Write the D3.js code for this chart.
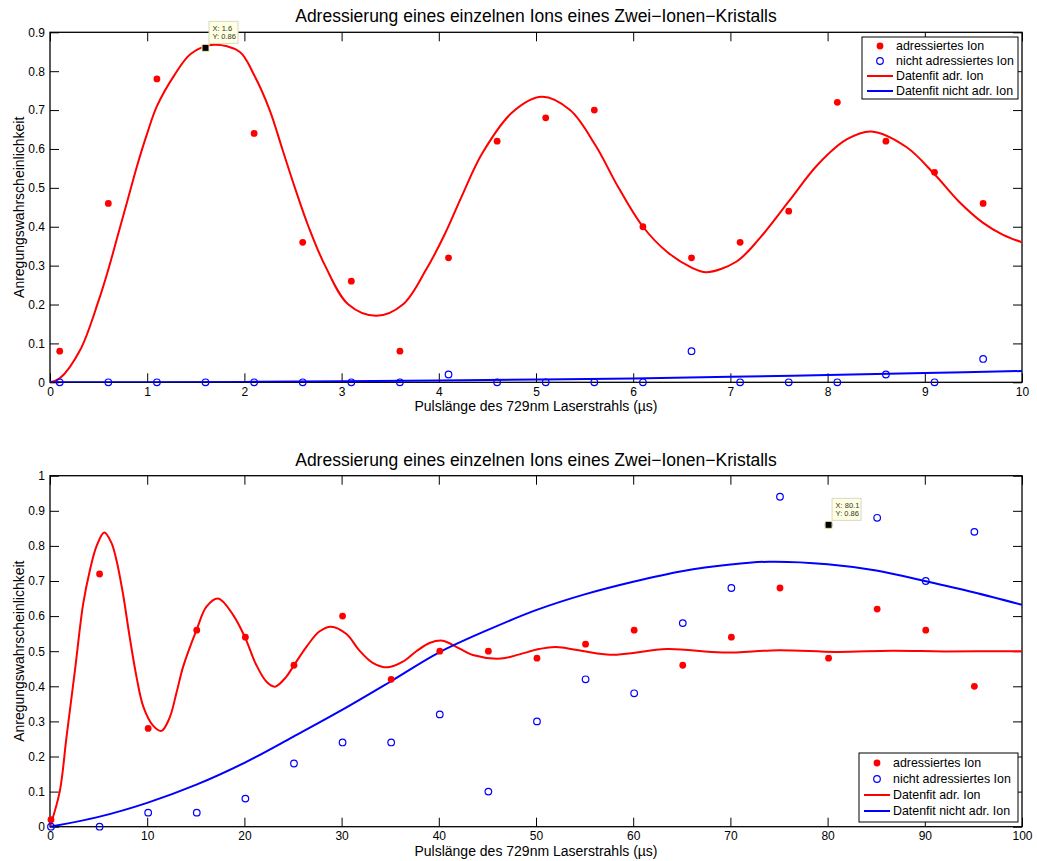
<!DOCTYPE html>
<html>
<head>
<meta charset="utf-8">
<script src="https://cdn.jsdelivr.net/npm/d3@7"></script>
<style>
  body { margin: 0; background: #fff; }
  svg { display: block; font-family: "Liberation Sans", Arial, sans-serif; }
</style>
</head>
<body>
<svg width="1037" height="861"></svg>
<script>
// titles and labels
const titleText = "Adressierung eines einzelnen Ions eines Zwei\u2212Ionen\u2212Kristalls"
const xLabel = "Pulslänge des 729nm Laserstrahls (µs)"
const yLabel = "Anregungswahrscheinlichkeit"
const legendLabels = ["adressiertes Ion", "nicht adressiertes Ion", "Datenfit adr. Ion", "Datenfit nicht adr. Ion"]

// top chart: measured points
const topX = [0.1, 0.6, 1.1, 1.6, 2.1, 2.6, 3.1, 3.6, 4.1, 4.6, 5.1, 5.6, 6.1, 6.6, 7.1, 7.6, 8.1, 8.6, 9.1, 9.6]
const topRed = [0.08, 0.46, 0.78, 0.86, 0.64, 0.36, 0.26, 0.08, 0.32, 0.62, 0.68, 0.70, 0.40, 0.32, 0.36, 0.44, 0.72, 0.62, 0.54, 0.46]
const topBlue = [0, 0, 0, 0, 0, 0, 0, 0, 0.02, 0, 0, 0, 0, 0.08, 0, 0, 0, 0.02, 0, 0.06]
// top chart: fit curves
const topRedFitX = [0, 0.1, 0.31, 0.5, 0.6, 0.7, 0.8, 0.9, 1.0, 1.1, 1.28, 1.45, 1.68, 1.95, 2.1, 2.26, 2.39, 2.52, 2.66, 2.83, 3.07, 3.36, 3.63, 3.87, 4.06, 4.23, 4.45, 4.76, 5.06, 5.35, 5.61, 5.85, 6.1, 6.35, 6.6, 6.75, 7.06, 7.3, 7.6, 7.9, 8.2, 8.45, 8.81, 9.1, 9.35, 9.6, 9.8, 10]
const topRedFitY = [0, 0.01, 0.083, 0.21, 0.29, 0.38, 0.47, 0.56, 0.64, 0.71, 0.79, 0.845, 0.868, 0.85, 0.79, 0.7, 0.6, 0.5, 0.4, 0.3, 0.2, 0.171, 0.2, 0.29, 0.38, 0.475, 0.59, 0.695, 0.734, 0.7, 0.61, 0.5, 0.4, 0.335, 0.295, 0.283, 0.31, 0.37, 0.465, 0.56, 0.625, 0.645, 0.605, 0.535, 0.465, 0.41, 0.38, 0.36]
const topBlueFitX = [0, 1, 2, 3, 4, 5, 6, 7, 8, 9, 10]
const topBlueFitY = [0, 0.0003, 0.001, 0.0025, 0.0045, 0.007, 0.01, 0.014, 0.019, 0.024, 0.029]
const topXTicks = [0, 1, 2, 3, 4, 5, 6, 7, 8, 9, 10]
const topYTicks = [0, 0.1, 0.2, 0.3, 0.4, 0.5, 0.6, 0.7, 0.8, 0.9]
const topTip = [1.6, 0.86]

// bottom chart: measured points
const botX = [0.1, 5.1, 10.1, 15.1, 20.1, 25.1, 30.1, 35.1, 40.1, 45.1, 50.1, 55.1, 60.1, 65.1, 70.1, 75.1, 80.1, 85.1, 90.1, 95.1]
const botRed = [0.02, 0.72, 0.28, 0.56, 0.54, 0.46, 0.60, 0.42, 0.50, 0.50, 0.48, 0.52, 0.56, 0.46, 0.54, 0.68, 0.48, 0.62, 0.56, 0.40]
const botBlue = [0, 0, 0.04, 0.04, 0.08, 0.18, 0.24, 0.24, 0.32, 0.10, 0.30, 0.42, 0.38, 0.58, 0.68, 0.94, 0.86, 0.88, 0.70, 0.84]
// bottom chart: fit curves
const botRedFitX = [0, 1, 1.7, 2.57, 3.42, 4.1, 4.8, 5.58, 6.3, 6.85, 7.5, 8.2, 8.9, 9.6, 10.6, 11.47, 12.3, 13.0, 13.7, 15.07, 16.1, 17.3, 18.8, 20.05, 21.2, 22.3, 23.15, 24.3, 25.1, 26.4, 27.7, 28.9, 30.5, 31.8, 33.2, 34.76, 36.3, 37.7, 39.1, 40.4, 42.1, 43.5, 46.4, 48.3, 50.3, 52, 57.6, 63.5, 69.2, 75, 80.8, 86.6, 92, 100]
const botRedFitY = [0, 0.1, 0.256, 0.446, 0.636, 0.73, 0.8, 0.838, 0.81, 0.758, 0.665, 0.54, 0.427, 0.342, 0.288, 0.273, 0.31, 0.38, 0.456, 0.56, 0.627, 0.65, 0.605, 0.54, 0.462, 0.412, 0.399, 0.427, 0.46, 0.513, 0.556, 0.57, 0.549, 0.503, 0.467, 0.454, 0.47, 0.5, 0.524, 0.53, 0.508, 0.489, 0.479, 0.491, 0.506, 0.512, 0.49, 0.506, 0.496, 0.503, 0.498, 0.501, 0.4995, 0.5]
const botBlueFitX = [0, 5, 10, 15, 20, 25, 30, 35, 40, 45, 50, 55, 60, 65, 70, 74, 80, 85, 90, 95, 100]
const botBlueFitY = [0, 0.028, 0.068, 0.119, 0.182, 0.256, 0.332, 0.413, 0.496, 0.56, 0.617, 0.662, 0.698, 0.728, 0.747, 0.755, 0.748, 0.73, 0.70, 0.668, 0.632]
const botXTicks = [0, 10, 20, 30, 40, 50, 60, 70, 80, 90, 100]
const botYTicks = [0, 0.1, 0.2, 0.3, 0.4, 0.5, 0.6, 0.7, 0.8, 0.9, 1]
const botTip = [80.1, 0.86]

const svg = d3.select("svg")
const red = "#ff0000", blue = "#0000ff"

function panel(opt) {
  const x = d3.scaleLinear().domain(opt.xDomain).range([50, 1022])
  const y = d3.scaleLinear().domain(opt.yDomain).range([opt.bottom, opt.top])
  const g = svg.append("g")
  const fmt = d3.format(".1~f")

  // title
  g.append("text").attr("x", 536).attr("y", opt.top - 10)
    .attr("text-anchor", "middle").style("font-size", "17.5px").text(titleText)

  // axes with inside ticks
  const axes = [
    [d3.axisBottom(x).tickValues(opt.xTicks).tickFormat(d3.format("d")), opt.bottom, 0, true],
    [d3.axisTop(x).tickValues(opt.xTicks).tickFormat(""), opt.top, 0, false],
    [d3.axisLeft(y).tickValues(opt.yTicks).tickFormat(fmt), 0, 50, true],
    [d3.axisRight(y).tickValues(opt.yTicks).tickFormat(""), 0, 1022, false]
  ]
  axes.forEach(([ax, ty, tx, lab]) => {
    const a = g.append("g").attr("transform", `translate(${tx},${ty})`)
      .call(ax.tickSizeInner(-9).tickSizeOuter(0).tickPadding(lab ? 5 : 0))
    a.select(".domain").remove()
    a.selectAll("line").attr("stroke", "#000")
    a.selectAll("text").attr("fill", "#000").style("font-size", "12px")
      .style("font-family", "'Liberation Sans', Arial, sans-serif")
  })

  // box
  g.append("rect").attr("x", 50).attr("y", opt.top)
    .attr("width", 972).attr("height", opt.bottom - opt.top)
    .attr("fill", "none").attr("stroke", "#000").attr("stroke-width", 1.3)

  // axis labels
  g.append("text").attr("x", 536).attr("y", opt.bottom + 29)
    .attr("text-anchor", "middle").style("font-size", "14px").text(xLabel)
  g.append("text").attr("transform", `translate(23.5,${(opt.top + opt.bottom) / 2}) rotate(-90)`)
    .attr("text-anchor", "middle").style("font-size", "14px").text(yLabel)

  const clip = "clip" + opt.id
  svg.append("clipPath").attr("id", clip).append("rect")
    .attr("x", 50).attr("y", opt.top).attr("width", 972).attr("height", opt.bottom - opt.top)

  // fit curves
  const line = d3.line().x(d => x(d[0])).y(d => y(d[1])).curve(d3.curveCatmullRom.alpha(0.5))
  const plot = g.append("g").attr("clip-path", `url(#${clip})`)
  plot.append("path").datum(d3.zip(opt.redFitX, opt.redFitY)).attr("d", line)
    .attr("fill", "none").attr("stroke", red).attr("stroke-width", 2)
  plot.append("path").datum(d3.zip(opt.blueFitX, opt.blueFitY)).attr("d", line)
    .attr("fill", "none").attr("stroke", blue).attr("stroke-width", 2)

  // measured points
  g.selectAll(null).data(d3.zip(opt.px, opt.red)).join("circle")
    .attr("cx", d => x(d[0])).attr("cy", d => y(d[1])).attr("r", 3.4).attr("fill", red)
  g.selectAll(null).data(d3.zip(opt.px, opt.blue)).join("circle")
    .attr("cx", d => x(d[0])).attr("cy", d => y(d[1])).attr("r", 3.3)
    .attr("fill", "none").attr("stroke", blue).attr("stroke-width", 1.2)

  // data tip
  const tx = x(opt.tip[0]), ty = y(opt.tip[1])
  g.append("rect").attr("x", tx - 3.5).attr("y", ty - 3.5).attr("width", 7).attr("height", 7)
    .attr("fill", "#000").attr("stroke", "#f0ecb0").attr("stroke-width", 1)
  g.append("rect").attr("x", tx + 3.5).attr("y", ty - 26.5).attr("width", 29).attr("height", 22)
    .attr("fill", "#ffffe1").attr("stroke", "#d8d8c8").attr("stroke-width", 1)
  g.append("text").attr("x", tx + 7).attr("y", ty - 17).style("font-size", "7.5px").attr("fill", "#333")
    .text("X: " + opt.tip[0])
  g.append("text").attr("x", tx + 7).attr("y", ty - 8.5).style("font-size", "7.5px").attr("fill", "#333")
    .text("Y: " + opt.tip[1])

  // legend
  const L = opt.legend
  const lg = g.append("g")
  lg.append("rect").attr("x", L.x).attr("y", L.y).attr("width", L.w).attr("height", L.h)
    .attr("fill", "#fff").attr("stroke", "#000").attr("stroke-width", 1)
  legendLabels.forEach((t, i) => {
    const cy = L.row0 + i * L.step
    if (i === 0) lg.append("circle").attr("cx", L.x + 18).attr("cy", cy).attr("r", 3.4).attr("fill", red)
    if (i === 1) lg.append("circle").attr("cx", L.x + 18).attr("cy", cy).attr("r", 3.3)
      .attr("fill", "none").attr("stroke", blue).attr("stroke-width", 1.2)
    if (i >= 2) lg.append("line").attr("x1", L.x + 5).attr("x2", L.x + 31).attr("y1", cy).attr("y2", cy)
      .attr("stroke", i === 2 ? red : blue).attr("stroke-width", 2)
    lg.append("text").attr("x", L.x + 34).attr("y", cy + 4.4).style("font-size", "12.4px").text(t)
  })
}

panel({
  id: "a", xDomain: [0, 10], yDomain: [0, 0.9], top: 32.3, bottom: 382.3,
  xTicks: topXTicks, yTicks: topYTicks,
  px: topX, red: topRed, blue: topBlue,
  redFitX: topRedFitX, redFitY: topRedFitY, blueFitX: topBlueFitX, blueFitY: topBlueFitY,
  tip: topTip,
  legend: { x: 862, y: 37, w: 156, h: 62, row0: 46, step: 15 }
})

panel({
  id: "b", xDomain: [0, 100], yDomain: [0, 1], top: 475.7, bottom: 826.7,
  xTicks: botXTicks, yTicks: botYTicks,
  px: botX, red: botRed, blue: botBlue,
  redFitX: botRedFitX, redFitY: botRedFitY, blueFitX: botBlueFitX, blueFitY: botBlueFitY,
  tip: botTip,
  legend: { x: 859, y: 753, w: 159, h: 69, row0: 763, step: 16 }
})
</script>
</body>
</html>
